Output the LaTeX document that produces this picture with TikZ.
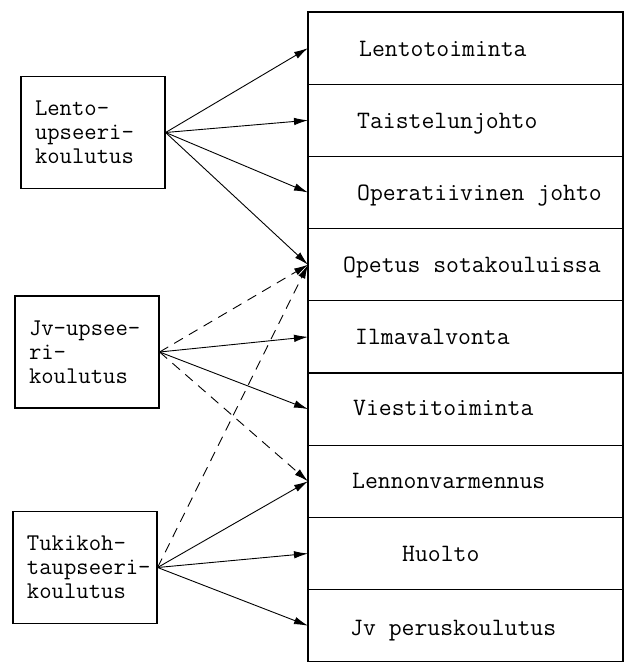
\documentclass[tikz,border=0pt]{standalone}
\usepackage{tikz}
\usetikzlibrary{positioning}
\usetikzlibrary{arrows.meta}

\tikzset{
  kurssi/.style={draw, line width=1.2pt, minimum width=144pt, minimum height=112pt,
    text width=116pt, align=left, inner sep=0pt,
    font=\ttfamily\fontsize{24}{24}\selectfont},
  tehtava/.style={draw, line width=1.2pt, minimum width=315pt, minimum height=72.2pt, outer sep=0pt},
  teksti/.style={anchor=mid west, inner sep=0pt, font=\ttfamily\fontsize{25}{30}\selectfont},
  nuoli/.style={-{Latex[length=14pt,width=7.5pt]}, line width=0.9pt},
  katko/.style={nuoli, dash pattern=on 10pt off 7pt}
}

\begin{document}
\begin{tikzpicture}[x=1pt,y=-1pt]
            \useasboundingbox (0,0) rectangle (624,666);
            % koulutukset
            \node[kurssi] (lento) at (93,132.5) {Lento-\\upseeri-\\koulutus};
            \node[kurssi] (jv) at (87,352) {Jv-upsee-\\ri-\\koulutus};
            \node[kurssi] (tuki) at (85,567.5) {Tukikoh-\\taupseeri-\\koulutus};
            % tehtavat
            \node[tehtava] (r1) at (465.5,48.1) {};
            \node[tehtava, below=0pt of r1] (r2) {};
            \node[tehtava, below=0pt of r2] (r3) {};
            \node[tehtava, below=0pt of r3] (r4) {};
            \node[tehtava, below=0pt of r4] (r5) {};
            \node[tehtava, below=0pt of r5] (r6) {};
            \node[tehtava, below=0pt of r6] (r7) {};
            \node[tehtava, below=0pt of r7] (r8) {};
            \node[tehtava, below=0pt of r8] (r9) {};
            \node[teksti] (t1) at ([xshift=51pt,yshift=-6pt]r1.west) {Lentotoiminta};
            \node[teksti] (t2) at ([xshift=49pt,yshift=-6pt]r2.west) {Taistelunjohto};
            \node[teksti] (t3) at ([xshift=49pt,yshift=-6pt]r3.west) {Operatiivinen johto};
            \node[teksti] (t4) at ([xshift=35pt,yshift=-6pt]r4.west) {Opetus sotakouluissa};
            \node[teksti] (t5) at ([xshift=47pt,yshift=-5pt]r5.west) {Ilmavalvonta};
            \node[teksti] (t6) at ([xshift=45pt,yshift=-4pt]r6.west) {Viestitoiminta};
            \node[teksti] (t7) at ([xshift=44pt,yshift=-5pt]r7.west) {Lennonvarmennus};
            \node[teksti] (t8) at ([xshift=94pt,yshift=-6pt]r8.west) {Huolto};
            \node[teksti] (t9) at ([xshift=42pt,yshift=-8pt]r9.west) {Jv peruskoulutus};
            % nuolet
            \draw[nuoli] (lento.east) -- (r1.west);
            \draw[nuoli] (lento.east) -- (r2.west);
            \draw[nuoli] (lento.east) -- (r3.west);
            \draw[nuoli] (lento.east) -- (r4.west);
            \draw[katko] (jv.east) -- (r4.west);
            \draw[nuoli] (jv.east) -- (r5.west);
            \draw[nuoli] (jv.east) -- (r6.west);
            \draw[katko] (jv.east) -- (r7.west);
            \draw[katko] (tuki.east) -- (r4.west);
            \draw[nuoli] (tuki.east) -- (r7.west);
            \draw[nuoli] (tuki.east) -- (r8.west);
            \draw[nuoli] (tuki.east) -- (r9.west);
        \end{tikzpicture}
\end{document}
